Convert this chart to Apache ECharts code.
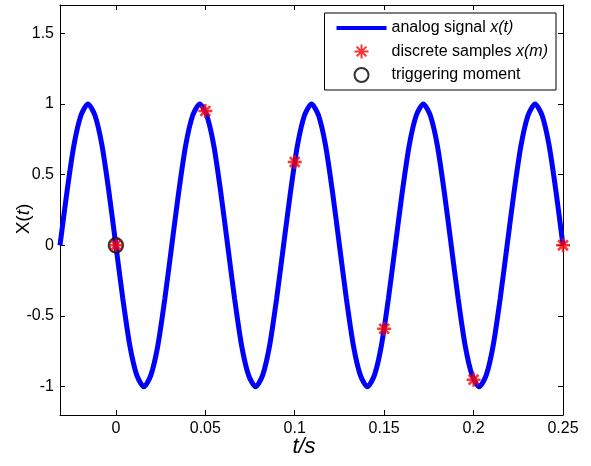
<!DOCTYPE html>
<html>
<head>
<meta charset="utf-8">
<script src="https://cdn.jsdelivr.net/npm/echarts@6/dist/echarts.min.js"></script>
<style>
  html, body { margin: 0; padding: 0; background: #fff; }
  #main { width: 591px; height: 466px; }
</style>
</head>
<body>
<div id="main"></div>
<script>
// analog signal x(t)
var signalT = [-0.03125, -0.02734, -0.02344, -0.01953, -0.01563, -0.01172, -0.00781, -0.00391,
  0, 0.00391, 0.00781, 0.01172, 0.01563, 0.01953, 0.02344, 0.02734,
  0.03125, 0.03516, 0.03906, 0.04297, 0.04688, 0.05078, 0.05469, 0.05859,
  0.0625, 0.06641, 0.07031, 0.07422, 0.07813, 0.08203, 0.08594, 0.08984,
  0.09375, 0.09766, 0.10156, 0.10547, 0.10938, 0.11328, 0.11719, 0.12109,
  0.125, 0.12891, 0.13281, 0.13672, 0.14063, 0.14453, 0.14844, 0.15234,
  0.15625, 0.16016, 0.16406, 0.16797, 0.17188, 0.17578, 0.17969, 0.18359,
  0.1875, 0.19141, 0.19531, 0.19922, 0.20313, 0.20703, 0.21094, 0.21484,
  0.21875, 0.22266, 0.22656, 0.23047, 0.23438, 0.23828, 0.24219, 0.24609, 0.25];
var signalX = [0, 0.38, 0.71, 0.92, 1, 0.92, 0.71, 0.38,
  0, -0.38, -0.71, -0.92, -1, -0.92, -0.71, -0.38,
  0, 0.38, 0.71, 0.92, 1, 0.92, 0.71, 0.38,
  0, -0.38, -0.71, -0.92, -1, -0.92, -0.71, -0.38,
  0, 0.38, 0.71, 0.92, 1, 0.92, 0.71, 0.38,
  0, -0.38, -0.71, -0.92, -1, -0.92, -0.71, -0.38,
  0, 0.38, 0.71, 0.92, 1, 0.92, 0.71, 0.38,
  0, -0.38, -0.71, -0.92, -1, -0.92, -0.71, -0.38,
  0, 0.38, 0.71, 0.92, 1, 0.92, 0.71, 0.38, 0];

// discrete samples x(m)
var sampleT = [0, 0.05, 0.1, 0.15, 0.2, 0.25];
var sampleX = [0, 0.95, 0.59, -0.59, -0.95, 0];

// triggering moment
var triggerT = [0];
var triggerX = [0];

var xTicks = [0, 0.05, 0.1, 0.15, 0.2, 0.25];
var yTicks = [-1, -0.5, 0, 0.5, 1, 1.5];

function zip(a, b) {
  return a.map(function (v, i) { return [v, b[i]]; });
}

var star = 'path://M0,5L10,5M5,0L5,10M1.5,1.5L8.5,8.5M8.5,1.5L1.5,8.5';
var font = 'Liberation Sans, Arial, sans-serif';

var myChart = echarts.init(document.getElementById('main'));

function tick(values) {
  return { show: true, inside: true, length: 5, customValues: values, lineStyle: { color: '#000' } };
}
var line = { show: true, onZero: false, lineStyle: { color: '#000', width: 1 } };

myChart.setOption({
  animation: false,
  backgroundColor: '#fff',
  grid: { left: 60, right: 28, top: 5, bottom: 51, containLabel: false, outerBoundsMode: 'none' },
  legend: {
    orient: 'vertical',
    right: 35,
    top: 13,
    padding: [7, 8, 7, 10],
    itemWidth: 50,
    itemHeight: 14,
    itemGap: 7.5,
    borderColor: '#000',
    borderWidth: 1,
    backgroundColor: '#fff',
    textStyle: {
      fontFamily: font, fontSize: 16, color: '#000',
      rich: { i: { fontFamily: font, fontSize: 16, fontStyle: 'italic', color: '#000' } }
    },
    formatter: function (name) {
      if (name === 'analog signal x(t)') return 'analog signal {i|x(t)}';
      if (name === 'discrete samples x(m)') return 'discrete samples {i|x(m)}';
      return name;
    },
    data: [
      {
        name: 'analog signal x(t)',
        itemStyle: { color: 'rgba(0,0,0,0)', borderWidth: 0 },
        lineStyle: { color: '#0000ff', width: 4 }
      },
      { name: 'discrete samples x(m)' },
      { name: 'triggering moment' }
    ]
  },
  xAxis: [
    {
      type: 'value',
      min: -0.03125,
      max: 0.25,
      name: 't/s',
      nameLocation: 'middle',
      nameGap: 21,
      nameMoveOverlap: false,
      nameTextStyle: { fontFamily: font, fontSize: 22, fontStyle: 'italic', color: '#000', padding: [0, 15, 0, 0] },
      axisLine: line,
      splitLine: { show: false },
      axisLabel: { customValues: xTicks, fontFamily: font, fontSize: 16, color: '#000', margin: 6 },
      axisTick: tick(xTicks)
    },
    {
      type: 'value',
      position: 'top',
      min: -0.03125,
      max: 0.25,
      axisLine: line,
      splitLine: { show: false },
      axisLabel: { show: false },
      axisTick: tick(xTicks)
    }
  ],
  yAxis: [
    {
      type: 'value',
      min: -1.2,
      max: 1.7,
      name: 'X({i|t})',
      nameLocation: 'middle',
      nameGap: 27,
      nameMoveOverlap: false,
      nameRotate: 90,
      nameTextStyle: {
        fontFamily: font, fontSize: 19, color: '#000', padding: [0, 18, 0, 0],
        rich: { i: { fontFamily: font, fontSize: 19, fontStyle: 'italic', color: '#000' } }
      },
      axisLine: line,
      splitLine: { show: false },
      axisLabel: { customValues: yTicks, fontFamily: font, fontSize: 16, color: '#000', margin: 6 },
      axisTick: tick(yTicks)
    },
    {
      type: 'value',
      position: 'right',
      min: -1.2,
      max: 1.7,
      axisLine: line,
      splitLine: { show: false },
      axisLabel: { show: false },
      axisTick: tick(yTicks)
    }
  ],
  series: [
    {
      name: 'analog signal x(t)',
      type: 'line',
      data: zip(signalT, signalX),
      showSymbol: false,
      symbol: 'none',
      smooth: 0.25,
      lineStyle: { color: '#0000ff', width: 5 },
      itemStyle: { color: '#0000ff' },
      z: 2
    },
    {
      name: 'triggering moment',
      type: 'scatter',
      data: zip(triggerT, triggerX),
      symbol: 'circle',
      symbolSize: 14,
      itemStyle: { color: 'transparent', borderColor: '#000', borderWidth: 2.5 },
      z: 3
    },
    {
      name: 'discrete samples x(m)',
      type: 'scatter',
      data: zip(sampleT, sampleX),
      symbol: star,
      symbolSize: 14,
      itemStyle: { color: 'transparent', borderColor: '#ff0000', borderWidth: 2.5 },
      z: 4
    }
  ]
});
</script>
</body>
</html>
